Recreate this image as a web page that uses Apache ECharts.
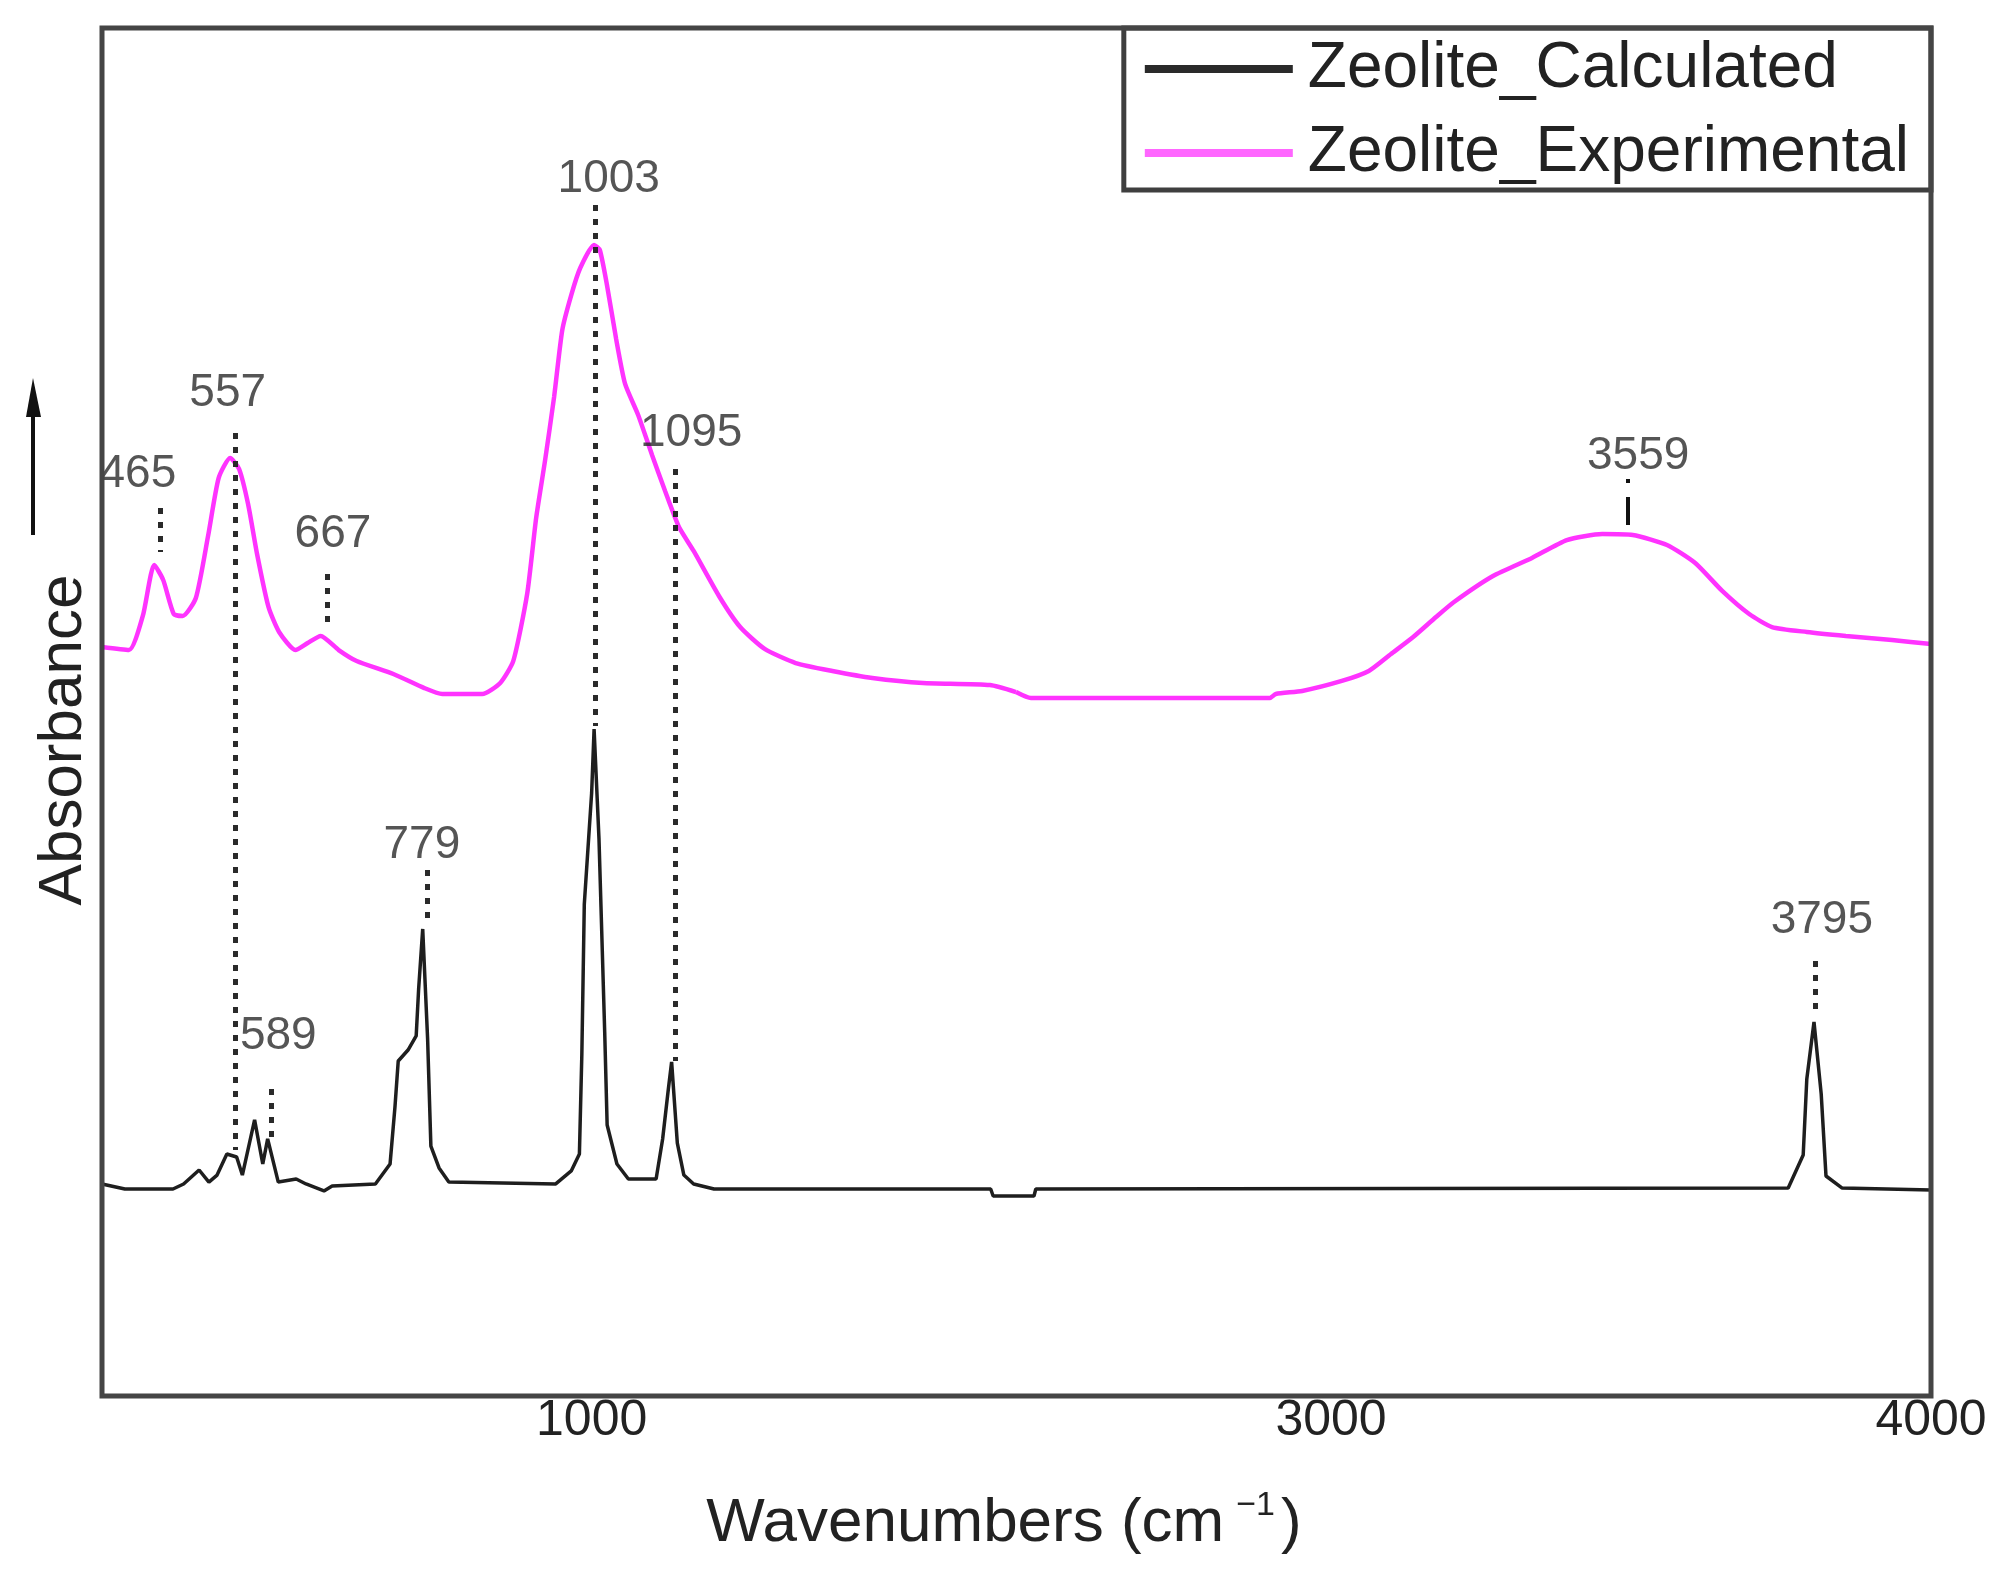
<!DOCTYPE html>
<html>
<head>
<meta charset="utf-8">
<script src="https://cdn.jsdelivr.net/npm/echarts@6/dist/echarts.min.js"></script>
<style>
html,body{margin:0;padding:0;background:#fff;}
#chart{width:2008px;height:1571px;}
</style>
</head>
<body>
<div id="chart"></div>
<script>
// ---- Data (wavenumber in cm^-1, absorbance in arbitrary units) ----
const calcWavenumbers = [400,428,487,500,519,531,541,553,565,572,587,597,603,616,638,650,672,682,735,753,759,763,775,785,788,793,799,803,813,825,956,975,985,988,991,1000,1003,1009,1016,1019,1031,1045,1079,1087,1094,1098,1105,1113,1125,1150,1489,1492,1520,2475,2505,2508,3762,3787,3793,3805,3817,3825,3852,4000];
const calcAbsorbance = [15.5,15.13,15.13,15.5,16.52,15.64,16.15,17.69,17.47,16.15,20.18,16.96,18.79,15.64,15.86,15.5,14.99,15.35,15.5,16.96,21.13,24.49,25.29,26.32,29.75,34.14,26.1,18.27,16.67,15.64,15.5,16.45,17.69,25.0,35.96,44.08,48.76,40.72,26.61,19.81,16.96,15.86,15.86,18.79,22.44,24.42,18.49,16.15,15.5,15.13,15.13,14.62,14.62,14.62,14.62,15.13,15.2,17.62,23.17,27.34,22.08,16.08,15.2,15.06];

const expWavenumbers = [400,433,450,464,475,488,499,515,530,543,557,568,579,590,604,617,637,652,668,690,712,757,795,817,866,888,904,921,932,943,954,964,975,986,1003,1010,1019,1030,1041,1057,1074,1090,1107,1125,1156,1182,1212,1250,1295,1344,1406,1488,1520,2475,2500,2898,2908,2952,3018,3063,3100,3137,3175,3205,3270,3335,3393,3452,3503,3560,3607,3652,3697,3735,3793,3858,3935,4000];
const expAbsorbance = [54.75,54.53,57.02,60.75,59.65,57.16,57.02,58.33,62.87,67.11,68.57,67.76,65.2,61.55,57.68,55.85,54.53,55.04,55.56,54.53,53.73,52.78,51.75,51.32,51.32,52.12,53.73,58.63,64.18,68.42,73.03,77.92,80.48,82.46,84.14,83.77,81.14,77.27,73.98,71.71,68.79,66.15,63.52,61.77,58.48,56.21,54.61,53.58,53.0,52.49,52.12,51.97,51.46,51.46,51.02,51.02,51.32,51.54,52.27,53.0,54.24,55.48,56.94,58.04,59.94,61.26,62.57,63.01,62.94,62.21,60.89,58.85,57.16,56.21,55.85,55.56,55.26,54.97];

// peak annotations
const peakText = ['465','557','589','667','779','1003','1095','3559','3795'];
const peakLineW = [471,563,608,676,799,1004,1102,3495,3807];
const peakLineTop = [64.91,70.39,22.44,60.09,38.45,87.06,67.76,67.03,31.8];
const peakLineBottom = [61.7,17.98,18.79,56.36,34.72,48.98,24.49,63.67,28.22];
const peakTextW = [444,554,616,683,792,1021,1122,3512,3818];
const peakTextA = [67.4,73.32,26.32,63.01,40.28,88.96,70.39,68.71,34.8];

// axis (broken x axis: two ranges)
const xRanges = [[400,1520],[2475,4000]];
const xTicks = [1000,3000,4000];

const seriesNames = ['Zeolite_Calculated','Zeolite_Experimental'];

// ---- Build ----
const FONT = '"Liberation Sans", Arial, sans-serif';
const chart = echarts.init(document.getElementById('chart'), null, {renderer:'canvas'});

function seg(ws, as, r){
  const out = [];
  ws.forEach((w,i)=>{ if (w >= r[0] && w <= r[1]) out.push([w, as[i]]); });
  return out;
}

const gridPos = [
  {left:102, top:28, width:914, height:1368},
  {left:1016, top:28, width:915, height:1368}
];

const xAxes = xRanges.map((r,i)=>({
  type:'value', gridIndex:i, min:r[0], max:r[1],
  axisLine:{show:false}, axisTick:{show:false}, splitLine:{show:false},
  axisLabel:{
    customValues: xTicks.filter(t=>t>=r[0] && t<=r[1]),
    formatter: v => String(v),
    fontFamily:FONT, fontSize:50, color:'#222', margin:0
  }
}));
const yAxes = xRanges.map((r,i)=>({type:'value', gridIndex:i, min:0, max:100, show:false}));

const series = [];
xRanges.forEach((r,i)=>{
  series.push({
    name: seriesNames[0], type:'line', xAxisIndex:i, yAxisIndex:i,
    data: seg(calcWavenumbers, calcAbsorbance, r),
    symbol:'none', z:3,
    lineStyle:{color:'#1e1e1e', width:3.5},
    itemStyle:{color:'#2a2a2a'}
  });
  series.push({
    name: seriesNames[1], type:'line', xAxisIndex:i, yAxisIndex:i,
    data: seg(expWavenumbers, expAbsorbance, r),
    symbol:'none', z:2, smooth:0.2,
    lineStyle:{color:'#ff33ff', width:4.5},
    itemStyle:{color:'#ff66ff'}
  });
  const idx = peakText.map((t,k)=>k).filter(k=>peakLineW[k]>=r[0] && peakLineW[k]<=r[1]);
  series.push({
    type:'scatter', xAxisIndex:i, yAxisIndex:i, silent:true, z:5,
    symbolSize:1, itemStyle:{color:'rgba(0,0,0,0)'},
    data: idx.map(k=>[peakTextW[k], peakTextA[k], peakText[k]]),
    label:{show:true, position:'inside', formatter:p=>p.data[2],
      fontFamily:FONT, fontSize:46, color:'#2a2a2a'},
    markLine:{
      silent:true, symbol:'none', animation:false,
      label:{show:false},
      lineStyle:{color:'#2a2a2a', width:5, type:[6,8]},
      data: idx.map(k=>{
        const item = [{coord:[peakLineW[k], peakLineTop[k]]},{coord:[peakLineW[k], peakLineBottom[k]]}];
        if (peakText[k]==='3559') item[0].lineStyle = {color:'#111', width:4, type:[4,14,60,10]};
        return item;
      })
    }
  });
});

const option = {
  animation:false,
  backgroundColor:'#fff',
  grid: gridPos,
  xAxis: xAxes,
  yAxis: yAxes,
  title:{
    text:'Wavenumbers (cm{sup|\u22121})',
    left:'center', top:1484,
    textStyle:{
      fontFamily:FONT, fontSize:62, fontWeight:'normal', color:'#222', lineHeight:70,
      rich:{sup:{fontFamily:FONT, fontSize:34, color:'#222', verticalAlign:'top', lineHeight:34, padding:[0,6,0,12]}}
    }
  },
  legend:{
    data: seriesNames.map(n=>({name:n, icon:'rect'})),
    orient:'vertical', right:77, top:28,
    selectedMode:false,
    backgroundColor:'#fff', borderColor:'#3f3f3f', borderWidth:5,
    padding:[9,22,5,21],
    itemWidth:148, itemHeight:8, itemGap:20,
    textStyle:{fontFamily:FONT, fontSize:64, color:'#222', lineHeight:63, padding:[0,0,0,10]}
  },
  graphic:[
    {type:'rect', z:50, silent:true, shape:{x:102,y:28,width:1829,height:1368},
      style:{fill:null, stroke:'#454545', lineWidth:5}},
    {type:'text', silent:true, x:64, y:740, rotation:Math.PI/2,
      style:{text:'Absorbance', fontFamily:FONT, fontSize:62, fill:'#222', textAlign:'center', textVerticalAlign:'middle'}},
    {type:'line', silent:true, shape:{x1:33,y1:535,x2:33,y2:405}, style:{stroke:'#111', lineWidth:4}},
    {type:'polygon', silent:true, shape:{points:[[33,378],[26,417],[41,417]]}, style:{fill:'#111'}}
  ],
  series: series
};
chart.setOption(option);
</script>
</body>
</html>
